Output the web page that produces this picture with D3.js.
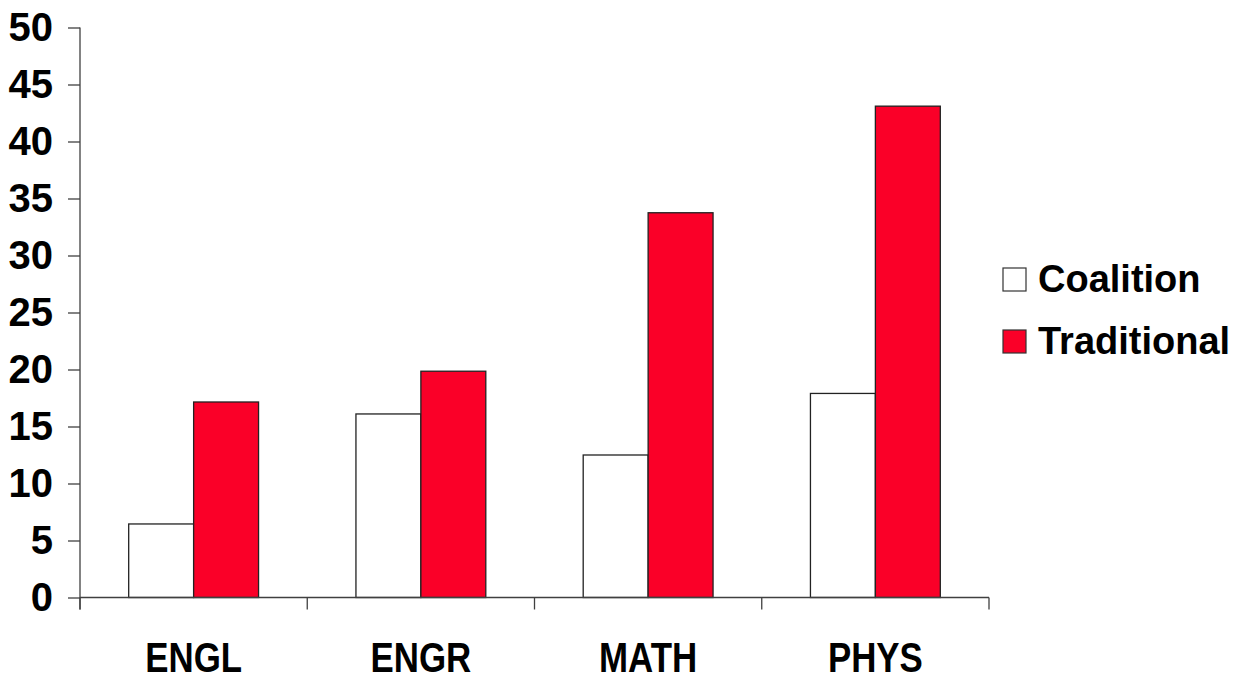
<!DOCTYPE html>
<html>
<head>
<meta charset="utf-8">
<script src="https://cdn.jsdelivr.net/npm/d3@7"></script>
<style>
  html, body { margin: 0; padding: 0; background: #fff; }
  svg { display: block; font-family: "Liberation Sans", Arial, sans-serif; font-weight: bold; }
</style>
</head>
<body>
<svg id="chart" width="1242" height="677"></svg>
<script>
// Course categories and the two series per course
const categories = ["ENGL", "ENGR", "MATH", "PHYS"];
const seriesNames = ["Coalition", "Traditional"];
const coalition = [6.45, 16.1, 12.5, 17.9];
const traditional = [17.15, 19.85, 33.75, 43.1];
const yTicks = [0, 5, 10, 15, 20, 25, 30, 35, 40, 45, 50];
const seriesFill = ["#ffffff", "#fa0028"];

const rows = categories.map((c, i) => ({ cat: c, values: [coalition[i], traditional[i]] }));

const svg = d3.select("#chart");
const plot = { left: 80, right: 989, top: 27.5, bottom: 597.5 };

const x0 = d3.scaleBand().domain(categories).range([plot.left, plot.right]).paddingInner(0).paddingOuter(0);
const x1 = d3.scaleBand().domain(seriesNames).range([0, x0.bandwidth()]).paddingInner(0).paddingOuter(0.75);
const y = d3.scaleLinear().domain([0, 50]).range([plot.bottom, plot.top]);

const axisColor = "#404040";

// Bars
const groups = svg.append("g").selectAll("g").data(rows).join("g")
  .attr("transform", d => `translate(${x0(d.cat)},0)`);
groups.selectAll("rect").data(d => d.values.map((v, i) => ({ key: seriesNames[i], v, i })))
  .join("rect")
  .attr("x", d => x1(d.key))
  .attr("y", d => y(d.v))
  .attr("width", x1.bandwidth())
  .attr("height", d => y(0) - y(d.v))
  .attr("fill", d => seriesFill[d.i])
  .attr("stroke", "#222")
  .attr("stroke-width", 1.3);

// Y axis
const yAxis = svg.append("g").attr("transform", `translate(${plot.left},0)`)
  .call(d3.axisLeft(y).tickValues(yTicks).tickSize(12).tickPadding(15).tickSizeOuter(0));
yAxis.select(".domain").remove();
yAxis.append("line").attr("x1", 0).attr("x2", 0).attr("y1", plot.top).attr("y2", plot.bottom + 12)
  .attr("stroke", axisColor).attr("stroke-width", 1.3);
yAxis.selectAll(".tick line").attr("stroke", axisColor).attr("stroke-width", 1.3);
yAxis.selectAll(".tick text").attr("fill", "#000").style("font-size", "40px").style("font-weight", "bold")
  .attr("font-family", null);

// X axis with tick marks at category boundaries
const xAxisG = svg.append("g").attr("transform", `translate(0,${plot.bottom})`);
xAxisG.append("line").attr("x1", plot.left).attr("x2", plot.right).attr("y1", 0).attr("y2", 0)
  .attr("stroke", axisColor).attr("stroke-width", 1.3);
const boundaries = categories.map(c => x0(c)).concat([x0(categories[categories.length - 1]) + x0.bandwidth()]);
xAxisG.selectAll("line.tk").data(boundaries).join("line").attr("class", "tk")
  .attr("x1", d => d).attr("x2", d => d).attr("y1", 0).attr("y2", 12)
  .attr("stroke", axisColor).attr("stroke-width", 1.3);

// Category labels (condensed bold)
svg.append("g").selectAll("text").data(categories).join("text")
  .attr("transform", d => `translate(${x0(d) + x0.bandwidth() / 2},672) scale(0.83,1)`)
  .attr("text-anchor", "middle")
  .style("font-size", "42px")
  .attr("fill", "#000")
  .text(d => d);

// Legend
const legend = svg.append("g").attr("transform", "translate(1003,0)");
const legendBaselines = [292, 354];
seriesNames.forEach((name, i) => {
  legend.append("rect")
    .attr("x", 0).attr("y", legendBaselines[i] - 24)
    .attr("width", 23).attr("height", 23)
    .attr("fill", seriesFill[i]).attr("stroke", "#333").attr("stroke-width", 1.2);
  legend.append("text")
    .attr("x", 35).attr("y", legendBaselines[i])
    .style("font-size", "38px").attr("fill", "#000")
    .text(name);
});
</script>
</body>
</html>
